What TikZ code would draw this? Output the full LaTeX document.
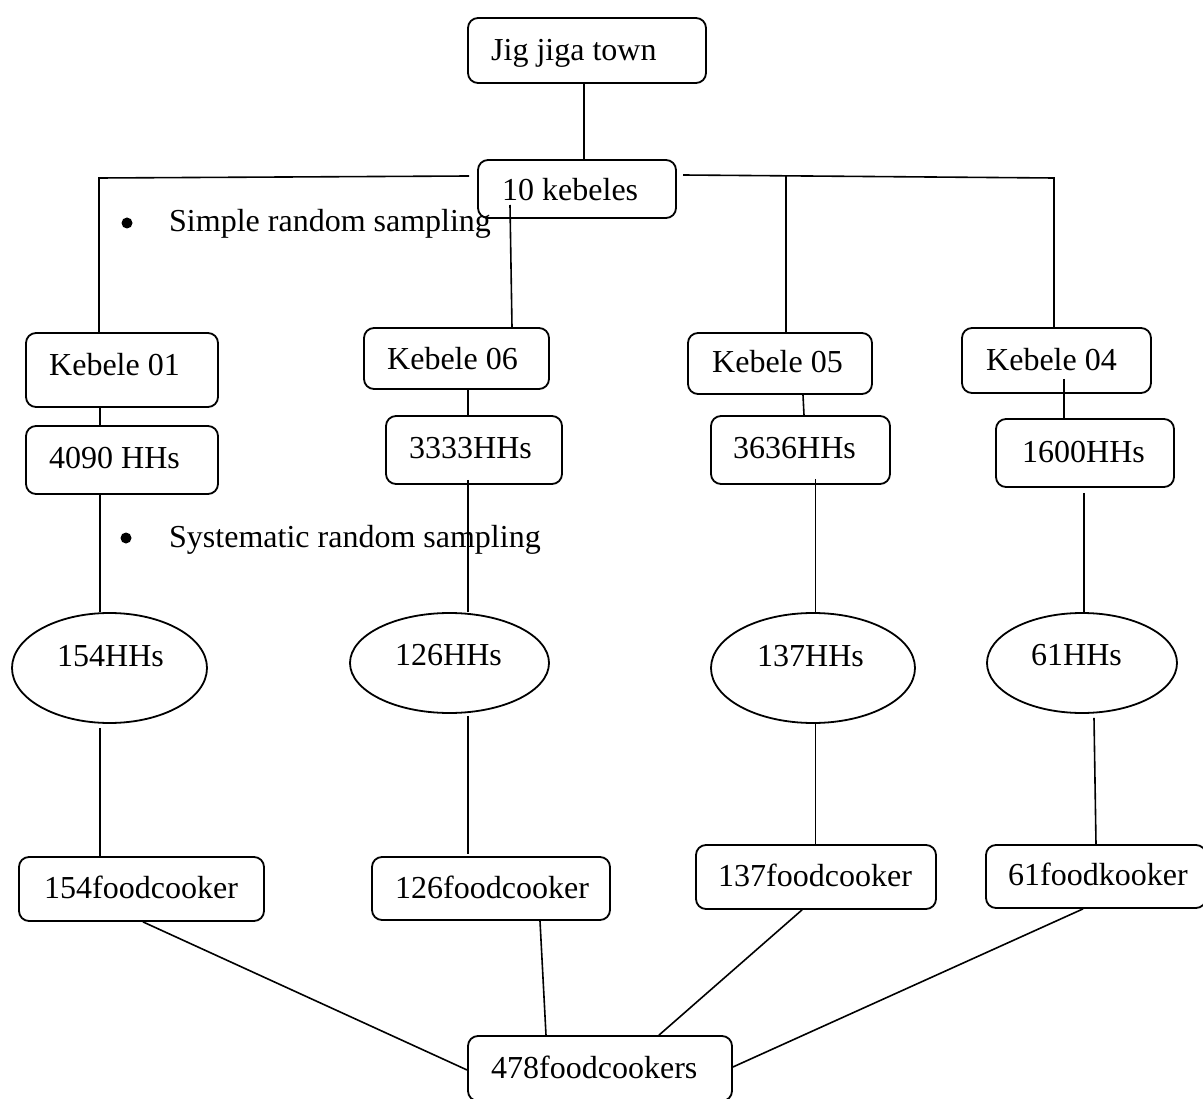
\documentclass[tikz,border=0pt]{standalone}
\usepackage{fontspec}
\setmainfont{Liberation Serif}
\usetikzlibrary{shapes.geometric}
\tikzset{
  box/.style={draw, line width=1.8pt, rounded corners=10pt, inner sep=0pt},
  oval/.style={draw, ellipse, line width=1.8pt, inner sep=0pt},
  txt/.style={anchor=base west, inner sep=0pt, font=\fontsize{32}{38}\selectfont},
  conn/.style={line width=1.6pt},
  dot/.style={circle, fill=black, inner sep=0pt, minimum size=11pt}
}
\begin{document}
\begin{tikzpicture}[x=1pt,y=-1pt]
\useasboundingbox (0,0) rectangle (1203,1099);
\clip (0,0) rectangle (1203,1099);
\fill[white] (0,0) rectangle (1203,1099);

% boxes
\node[box, minimum width=238pt, minimum height=65pt] (jig) at (587,50.5) {};
\node[box, minimum width=198pt, minimum height=58pt] (kb) at (577,189) {};
\node[box, minimum width=192pt, minimum height=74pt] (k01) at (122,370) {};
\node[box, minimum width=192pt, minimum height=68pt] (h01) at (122,460) {};
\node[box, minimum width=185pt, minimum height=61pt] (k06) at (456.5,358.5) {};
\node[box, minimum width=176pt, minimum height=68pt] (h06) at (474,450) {};
\node[box, minimum width=184pt, minimum height=61pt] (k05) at (780,363.5) {};
\node[box, minimum width=179pt, minimum height=68pt] (h05) at (800.5,450) {};
\node[box, minimum width=189pt, minimum height=65pt] (k04) at (1056.5,360.5) {};
\node[box, minimum width=178pt, minimum height=68pt] (h04) at (1085,453) {};
\node[oval, minimum width=195pt, minimum height=110pt] (e01) at (109.5,668) {};
\node[oval, minimum width=199pt, minimum height=100pt] (e06) at (449.5,663) {};
\node[oval, minimum width=204pt, minimum height=110pt] (e05) at (813,668) {};
\node[oval, minimum width=190pt, minimum height=100pt] (e04) at (1082,663) {};
\node[box, minimum width=245pt, minimum height=64pt] (f01) at (141.5,889) {};
\node[box, minimum width=238pt, minimum height=63pt] (f06) at (491,888.5) {};
\node[box, minimum width=240pt, minimum height=64pt] (f05) at (816,877) {};
\node[box, minimum width=220pt, minimum height=63pt] (f04) at (1096,876.5) {};
\node[box, minimum width=264pt, minimum height=65pt] (tot) at (600,1068.5) {};

% texts
\node[txt] (tjig) at (491,61) {Jig jiga town};
\node[txt] (tkb) at (502,201) {10 kebeles};
\node[txt] (tk01) at (49,376) {Kebele 01};
\node[txt] (th01) at (49,468) {4090 HHs};
\node[txt] (tk06) at (387,370) {Kebele 06};
\node[txt] (th06) at (409,458) {3333HHs};
\node[txt] (tk05) at (712,373) {Kebele 05};
\node[txt] (th05) at (733,458) {3636HHs};
\node[txt] (tk04) at (986,371) {Kebele 04};
\node[txt] (th04) at (1022,462) {1600HHs};
\node[txt] (te01) at (57,666) {154HHs};
\node[txt] (te06) at (395,665) {126HHs};
\node[txt] (te05) at (757,666) {137HHs};
\node[txt] (te04) at (1031,665) {61HHs};
\node[txt] (tf01) at (44,898) {154foodcooker};
\node[txt] (tf06) at (395,898) {126foodcooker};
\node[txt] (tf05) at (718,886) {137foodcooker};
\node[txt] (tf04) at (1008,885) {61foodkooker};
\node[txt] (ttot) at (491,1078) {478foodcookers};

% bullets
\node[dot] (b1) at (127,223) {};
\node[txt] (s1) at (169,232) {Simple random sampling};
\node[dot] (b2) at (126,538) {};
\node[txt] (s2) at (169,547) {Systematic random sampling};

% helper coordinates
\coordinate (xA) at (584,0);
\coordinate (jL) at (469,176);
\coordinate (cL) at (99,178);
\coordinate (jR) at (683,175);
\coordinate (cR) at (1054,178);
\coordinate (j05) at (786,176.5);
\coordinate (j06) at (510,205);
\coordinate (x100) at (100,0);
\coordinate (x468) at (468,0);
\coordinate (x815) at (815.5,0);
\coordinate (x1064) at (1064,0);
\coordinate (x1084) at (1084,0);

% connectors
\draw[conn] (jig.south -| xA) -- (kb.north -| xA);
\draw[conn] (jL) -- (cL) -- (k01.north -| cL);
\draw[conn] (jR) -- (cR) -- (k04.north -| cR);
\draw[conn] (j05) -- (k05.north -| j05);
\draw[conn] (j06) -- ([xshift=55.5pt]k06.north);

\draw[conn] (k01.south -| x100) -- (h01.north -| x100);
\draw[conn] (h01.south -| x100) -- (e01.north -| x100);
\draw[conn] ([yshift=-4pt]e01.south -| x100) -- (f01.north -| x100);

\draw[conn] (k06.south -| x468) -- (h06.north -| x468);
\draw[conn] ([yshift=5pt]h06.south -| x468) -- (e06.north -| x468);
\draw[conn] ([yshift=-2pt]e06.south -| x468) -- ([yshift=2pt]f06.north -| x468);

\draw[conn] ([xshift=23pt]k05.south) -- ([xshift=3.5pt]h05.north);
\draw[conn] ([yshift=6pt]h05.south -| x815) -- (e05.north -| x815);
\draw[conn] (e05.south -| x815) -- (f05.north -| x815);

\draw[conn] ([yshift=15pt]k04.south -| x1064) -- (h04.north -| x1064);
\draw[conn] ([yshift=-5pt]h04.south -| x1084) -- (e04.north -| x1084);
\draw[conn] ([xshift=12pt,yshift=-4pt]e04.south) -- (f04.north);

\draw[conn] ([xshift=1.5pt]f01.south) -- ([yshift=-1.5pt]tot.west);
\draw[conn] ([xshift=49pt]f06.south) -- ([xshift=-54pt]tot.north);
\draw[conn] ([xshift=-14pt]f05.south) -- ([xshift=59pt]tot.north);
\draw[conn] ([xshift=-13pt]f04.south) -- ([yshift=1.5pt]tot.east);
\end{tikzpicture}
\end{document}
